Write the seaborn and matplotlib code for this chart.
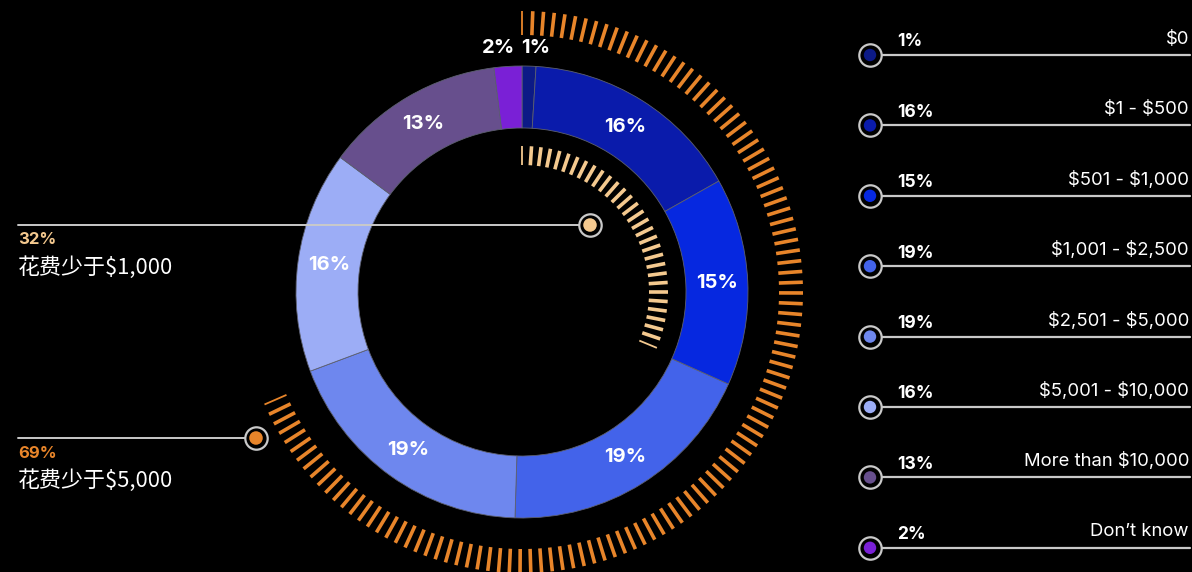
import numpy as np
import matplotlib
matplotlib.use("Agg")
import matplotlib.pyplot as plt
import seaborn as sns
from matplotlib.collections import LineCollection

# ---- data ----
categories = ["$0", "$1 - $500", "$501 - $1,000", "$1,001 - $2,500",
              "$2,501 - $5,000", "$5,001 - $10,000", "More than $10,000", "Don\u2019t know"]
shares = [1, 16, 15, 19, 19, 16, 13, 2]
seg_colors = ["#0c1a86", "#0a1bab", "#0628e0", "#4363ea",
              "#6e87ee", "#9cadf6", "#674f8d", "#7a20d6"]

summary_pct = [32, 69]
summary_text = ["花费少于$1,000", "花费少于$5,000"]
summary_colors = ["#f4c98f", "#e8852a"]

sns.set_theme(style="dark", rc={"axes.facecolor": "black", "figure.facecolor": "black"})
plt.rcParams["font.family"] = ["Inter", "Noto Sans CJK SC", "DejaVu Sans"]
plt.rcParams["text.parse_math"] = False
CJK = ["Noto Sans CJK SC", "DejaVu Sans"]

W, H = 1192, 572
fig = plt.figure(figsize=(W / 100, H / 100), dpi=100)
ax = fig.add_axes([0, 0, 1, 1])
ax.set_facecolor("black")


def py(y):
    """pixel row (top-down) to data y (bottom-up)"""
    return H - y


cx, cy = 522, py(292)
R_OUT, RING_W = 226, 62

wedges, _ = ax.pie(shares, colors=seg_colors, startangle=90, counterclock=False,
                   center=(cx, cy), radius=R_OUT,
                   wedgeprops=dict(width=RING_W, edgecolor="#5d6070", linewidth=0.6))

# percentage labels on the ring
r_mid = R_OUT - RING_W / 2
for w, v in zip(wedges, shares):
    ang = np.deg2rad((w.theta1 + w.theta2) / 2)
    if v >= 5:
        ax.text(cx + r_mid * np.cos(ang), cy + r_mid * np.sin(ang), f"{v}%",
                color="white", fontsize=14.5, fontweight="bold", ha="center", va="center")
    else:
        r_lab = R_OUT + 18
        x = cx + r_lab * np.cos(ang)
        side = 1 if np.cos(ang) > 0 else -1
        ax.text(x - 8 * side, cy + r_lab * np.sin(ang), f"{v}%", color="white",
                fontsize=14.5, fontweight="bold", ha="left" if side > 0 else "right",
                va="center")


def tick_arc(pct, r0, r1, step_deg, color, lw):
    span = 360 * pct / 100
    th = np.deg2rad(np.arange(0, span + 1e-6, step_deg))
    segs = [[(cx + r0 * np.sin(t), cy + r0 * np.cos(t)),
             (cx + r1 * np.sin(t), cy + r1 * np.cos(t))] for t in th]
    widths = np.full(len(segs), lw)
    widths[0] = widths[-1] = lw * 0.5
    ax.add_collection(LineCollection(segs, colors=color, linewidths=widths,
                                     capstyle="butt", zorder=3))


# outer arc: share below $5,000, inner arc: share below $1,000
tick_arc(summary_pct[1], 257, 281, 2.2, summary_colors[1], 2.6)
tick_arc(summary_pct[0], 127, 146, 3.75, summary_colors[0], 2.6)

# callouts on the left
line_col = "#c9c9c9"
call_rows = [225, 438]
call_dot_x = [590, 256]
for pct, txt, col, yr, dx in zip(summary_pct, summary_text, summary_colors, call_rows, call_dot_x):
    ax.plot([18, dx - 10], [py(yr), py(yr)], color=line_col, lw=1.4, zorder=4)
    sns.scatterplot(x=[dx], y=[py(yr)], s=260, color="black", edgecolor=line_col,
                    linewidth=1.6, ax=ax, zorder=5, legend=False)
    sns.scatterplot(x=[dx], y=[py(yr)], s=95, color=col, edgecolor="none",
                    ax=ax, zorder=6, legend=False)
    ax.text(18, py(yr + 15), f"{pct}%", color=col, fontsize=12, fontweight="bold",
            ha="left", va="center")
    ax.text(18, py(yr + 43), txt, color="white", fontsize=15.8, fontweight="medium",
            ha="left", va="center", family=CJK)

# legend on the right
leg_x = 870
leg_rows = 55 + 70.4 * np.arange(len(categories))
for cat, v, col, yr in zip(categories, shares, seg_colors, leg_rows):
    ax.plot([leg_x + 10, 1190], [py(yr), py(yr)], color=line_col, lw=1.6, zorder=4)
    ax.text(897, py(yr - 13), f"{v}%", color="white", fontsize=12.5, fontweight="bold",
            ha="left", va="center")
    ax.text(1189, py(yr - 16), cat, color="white", fontsize=13.3, ha="right", va="center")

sns.scatterplot(x=[leg_x] * len(leg_rows), y=[py(y) for y in leg_rows], s=260,
                color="black", edgecolor=line_col, linewidth=1.6, ax=ax, zorder=5,
                legend=False)
sns.scatterplot(x=[leg_x] * len(leg_rows), y=[py(y) for y in leg_rows], hue=categories,
                palette=seg_colors, s=80, edgecolor="none", ax=ax, zorder=6, legend=False)

ax.set_xlim(0, W)
ax.set_ylim(0, H)
ax.set_aspect("equal")
ax.axis("off")

fig.savefig("out.png", dpi=100, facecolor="black")
